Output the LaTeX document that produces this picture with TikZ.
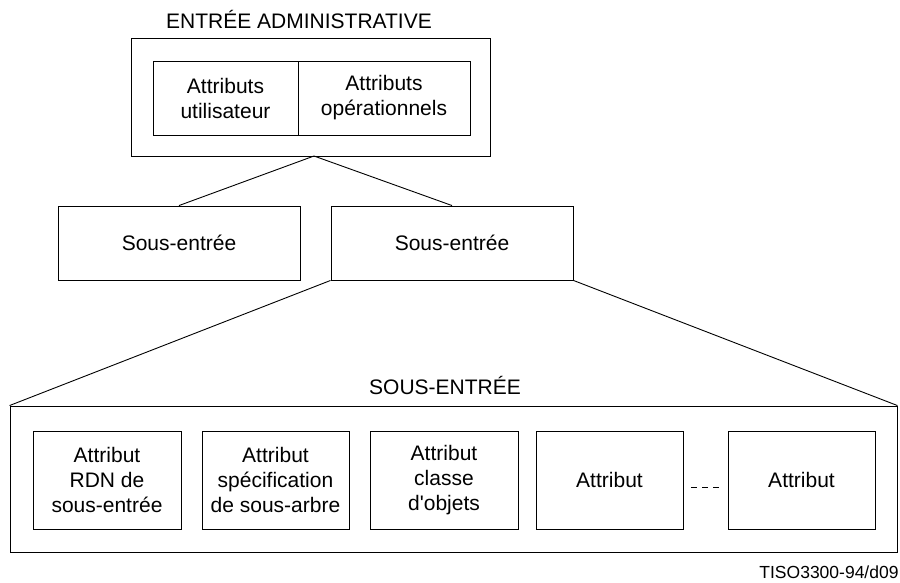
\documentclass[tikz,border=0pt]{standalone}
\usepackage{fontspec}
\setmainfont{Liberation Sans}[Ligatures=TeXOff]
\usetikzlibrary{calc}
\begin{document}
\begin{tikzpicture}[x=1pt,y=-1pt,line width=0.9pt,
  box/.style={draw,rectangle,inner sep=0pt,align=center,font=\fontsize{21}{25}\selectfont},
  lbl/.style={inner sep=0pt,font=\fontsize{21}{25}\selectfont},
  conn/.style={draw,line width=0.9pt}]
\useasboundingbox (0,0) rectangle (900,583);
% top
\node[lbl] (title) at (299,19) {ENTRÉE ADMINISTRATIVE};
\node[box,minimum width=359,minimum height=118] (outer) at (310.5,97) {};
\node[box,minimum width=145,minimum height=74] (ua) at (225.5,98) {Attributs\\utilisateur};
\node[box,minimum width=172,minimum height=74] (oa) at (384,98) {Attributs\\opérationnels};
\coordinate (apex) at (314,156);
% sub-entries
\node[box,minimum width=242,minimum height=74] (se1) at (179,243) {Sous-entrée};
\node[box,minimum width=242,minimum height=74] (se2) at (452,243) {Sous-entrée};
\draw[conn] (se1.north) -- (apex) -- (se2.north);
% bottom
\node[lbl] (subtitle) at (445,385) {SOUS-ENTRÉE};
\node[box,minimum width=887,minimum height=146] (big) at (453.5,479) {};
\draw[conn] (se2.south west) -- (big.north west);
\draw[conn] (se2.south east) -- (big.north east);
\node[box,minimum width=148,minimum height=98] (b1) at (107,480) {Attribut\\RDN de\\sous-entrée};
\node[box,minimum width=147,minimum height=98] (b2) at (275.5,480) {Attribut\\spécification\\de sous-arbre};
\node[box,minimum width=148,minimum height=98] (b3) at (444,480) {Attribut\\classe\\d'objets};
\node[box,minimum width=147,minimum height=98] (b4) at (609.5,480) {Attribut};
\node[box,minimum width=147,minimum height=98] (b5) at (801.5,480) {Attribut};
\coordinate (d1) at ($(b4.east)+(8,7)$);
\coordinate (d2) at ($(b5.west)+(-9,7)$);
\draw[dash pattern=on 6pt off 5pt] (d1) -- (d2);
\node[inner sep=0pt,anchor=base east,font=\fontsize{17.5}{20}\selectfont] (ref) at (899,578) {TISO3300-94/d09};
\end{tikzpicture}
\end{document}
